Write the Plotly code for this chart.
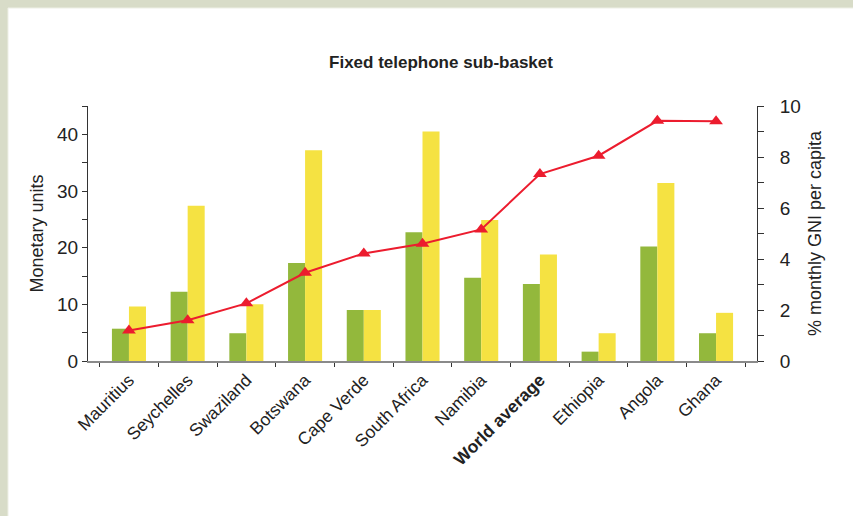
import plotly.graph_objects as go

categories = ["Mauritius", "Seychelles", "Swaziland", "Botswana", "Cape Verde",
              "South Africa", "Namibia", "World average", "Ethiopia", "Angola", "Ghana"]
tick_labels = ["Mauritius", "Seychelles", "Swaziland", "Botswana", "Cape Verde",
               "South Africa", "Namibia", "<b>World average</b>", "Ethiopia", "Angola", "Ghana"]
green_values = [5.7, 12.2, 4.9, 17.3, 9.0, 22.7, 14.7, 13.6, 1.65, 20.2, 4.9]
yellow_values = [9.6, 27.4, 10.0, 37.2, 9.0, 40.5, 24.9, 18.8, 4.9, 31.4, 8.5]
gni_pct = [1.2, 1.6, 2.26, 3.46, 4.22, 4.6, 5.16, 7.33, 8.05, 9.42, 9.4]

left_ticks = [0, 5, 10, 15, 20, 25, 30, 35, 40, 45]
left_text = ["0", "", "10", "", "20", "", "30", "", "40", ""]
right_ticks = list(range(0, 11))
right_text = ["0", "", "2", "", "4", "", "6", "", "8", "", "10"]

FONT = "Liberation Sans Narrow, Arial Narrow, Liberation Sans, Arial, sans-serif"
TXT = "#222222"

fig = go.Figure()
fig.add_trace(go.Bar(x=categories, y=green_values, marker_color="#93b83c",
                     marker_line_width=0, yaxis="y"))
fig.add_trace(go.Bar(x=categories, y=yellow_values, marker_color="#f5e242",
                     marker_line_width=0, yaxis="y"))
fig.add_trace(go.Scatter(x=categories, y=gni_pct, yaxis="y2", mode="lines+markers",
                         line=dict(color="#ec1c2e", width=2),
                         marker=dict(symbol="triangle-up", size=12, color="#ec1c2e")))

L, R, T, B = 88, 96, 106, 155
W, H = 853, 516
pw, ph = W - L - R, H - T - B

def px_x(p):
    return (p - L) / pw

def px_y(p):
    return (H - B - p) / ph

fig.update_layout(
    width=W, height=H,
    margin=dict(l=L, r=R, t=T, b=B, autoexpand=False),
    paper_bgcolor="#d8dcc8",
    plot_bgcolor="rgba(0,0,0,0)",
    showlegend=False,
    barmode="group",
    bargap=0.42,
    bargroupgap=0,
    font=dict(family=FONT, color=TXT, size=16),
    title=dict(text="<b>Fixed telephone sub-basket</b>", x=px_x(441), xref="paper",
               xanchor="center", y=1 - 62 / H, yref="container", yanchor="middle",
               font=dict(size=17, family=FONT, color=TXT)),
    xaxis=dict(
        tickmode="array", tickvals=categories, ticktext=tick_labels,
        tickangle=-45, tickfont=dict(size=17.5, family=FONT, color=TXT),
        showline=True, linecolor="#8a8a8a", linewidth=2,
        ticks="outside", tickson="boundaries", ticklen=4, tickcolor="#333333",
        showgrid=False, zeroline=False, automargin=False,
    ),
    yaxis=dict(
        range=[0, 45], tickmode="array", tickvals=left_ticks, ticktext=left_text,
        showline=True, linecolor="#333333", linewidth=1,
        ticks="outside", ticklen=5, tickcolor="#333333",
        showgrid=False, zeroline=False, automargin=False,
        tickfont=dict(size=19, family=FONT, color=TXT),
        title=dict(text="Monetary units", font=dict(size=18, family=FONT, color=TXT), standoff=8),
    ),
    yaxis2=dict(
        range=[0, 10], overlaying="y", side="right",
        tickmode="array", tickvals=right_ticks, ticktext=right_text,
        showline=True, linecolor="#333333", linewidth=1,
        ticks="outside", ticklen=6, tickcolor="#333333",
        ticklabelstandoff=12, automargin=False,
        showgrid=False, zeroline=False,
        tickfont=dict(size=19, family=FONT, color=TXT),
        title=dict(text="% monthly GNI per capita", font=dict(size=18, family=FONT, color=TXT), standoff=8),
    ),
    shapes=[dict(type="rect", xref="paper", yref="paper", layer="below",
                 x0=px_x(8), x1=px_x(W + 5), y0=px_y(H + 5), y1=px_y(8),
                 fillcolor="white", line=dict(color="#eef0e6", width=1))],
)

fig.write_html("out.html", config={"displayModeBar": False},
               post_script="document.body.style.margin='0';document.body.style.overflow='hidden';")
